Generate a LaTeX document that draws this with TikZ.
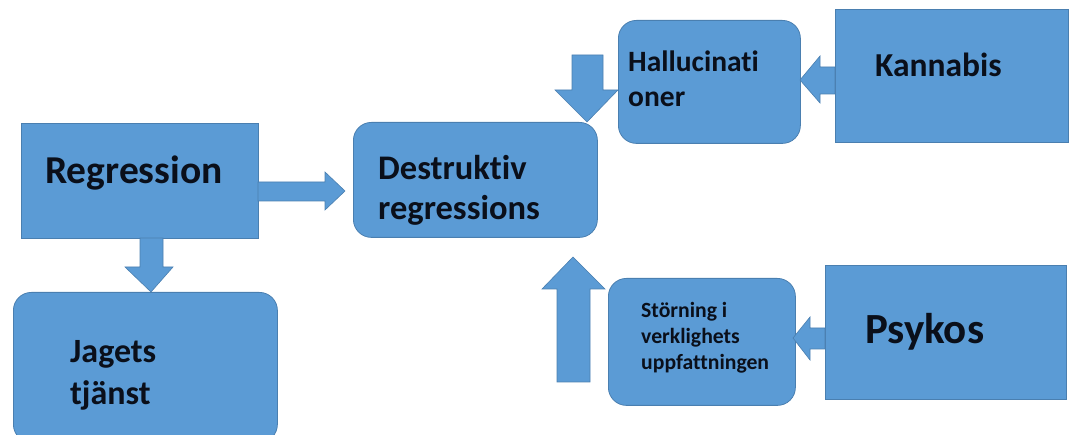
\documentclass[tikz,border=0pt]{standalone}
\usepackage{fontspec}
\setmainfont{Carlito}[Ligatures=NoCommon]
\definecolor{boxblue}{HTML}{5B9BD5}
\definecolor{boxedge}{HTML}{4A7FB0}
\definecolor{txtcol}{HTML}{0A0F1A}
\tikzset{
  sqbox/.style={fill=boxblue, draw=boxedge, line width=0.8pt, anchor=north west, inner sep=0pt},
  rdbox/.style={sqbox, rounded corners=18pt},
  lbl/.style={anchor=base west, inner sep=0pt, text=txtcol, font=\bfseries, align=left},
  barrow/.style={fill=boxblue, draw=boxedge, line width=0.6pt}
}
\begin{document}
\begin{tikzpicture}[x=1pt,y=-1pt]
\useasboundingbox (0,0) rectangle (1069,435);
\clip (0,0) rectangle (1069,435);
% boxes
\node[sqbox, minimum width=237pt, minimum height=115pt] (reg) at (21,123) {};
\node[rdbox, minimum width=264pt, minimum height=150pt] (jag) at (13,292) {};
\node[rdbox, minimum width=244pt, minimum height=115pt] (des) at (353,122) {};
\node[rdbox, minimum width=182pt, minimum height=123pt] (hal) at (618,20) {};
\node[sqbox, minimum width=233pt, minimum height=133pt] (kan) at (835,9) {};
\node[rdbox, minimum width=187pt, minimum height=127pt] (sto) at (608,278) {};
\node[sqbox, minimum width=241pt, minimum height=134pt] (psy) at (825,265) {};
% labels (anchor = baseline of last line)
\node[lbl, font=\bfseries\fontsize{39.5}{42}\selectfont] (tReg) at (45,184) {Regression};
\node[lbl, font=\bfseries\fontsize{34}{42}\selectfont] (tJag) at (70,405) {Jagets\\tjänst};
\node[lbl, font=\bfseries\fontsize{34.5}{40}\selectfont] (tDes) at (378,220) {Destruktiv\\regressions};
\node[lbl, font=\bfseries\fontsize{29.5}{35}\selectfont] (tHal) at (628,107) {Hallucinati\\oner};
\node[lbl, font=\bfseries\fontsize{33.5}{36}\selectfont] (tKan) at (875,77) {Kannabis};
\node[lbl, font=\bfseries\fontsize{21.7}{26}\selectfont] (tSto) at (641,370) {Störning i\\verklighets\\uppfattningen};
\node[lbl, font=\bfseries\fontsize{43}{50}\selectfont] (tPsy) at (865,344) {Psykos};
% block arrows
% Regression -> Destruktiv
\draw[barrow] (258,182) -- (325,182) -- (325,172) -- (345,191) -- (325,210) -- (325,201) -- (258,201) -- cycle;
% Regression -> Jagets
\draw[barrow] (140,238) -- (163,238) -- (163,267) -- (173,267) -- (151,292) -- (125,267) -- (140,267) -- cycle;
% Hallucinationer -> Destruktiv
\draw[barrow] (572,55) -- (603,55) -- (603,90) -- (618,90) -- (587,122) -- (555,90) -- (572,90) -- cycle;
% Kannabis -> Hallucinationer
\draw[barrow] (835,67) -- (820,67) -- (820,56) -- (800,80) -- (820,103) -- (820,94) -- (835,94) -- cycle;
% Psykos -> Stoerning
\draw[barrow] (825,328) -- (810,328) -- (810,317) -- (793,338) -- (810,360) -- (810,349) -- (825,349) -- cycle;
% Stoerning -> Destruktiv (up arrow)
\draw[barrow] (557,382) -- (590,382) -- (590,289) -- (605,289) -- (573,257) -- (542,289) -- (557,289) -- cycle;
\end{tikzpicture}
\end{document}
